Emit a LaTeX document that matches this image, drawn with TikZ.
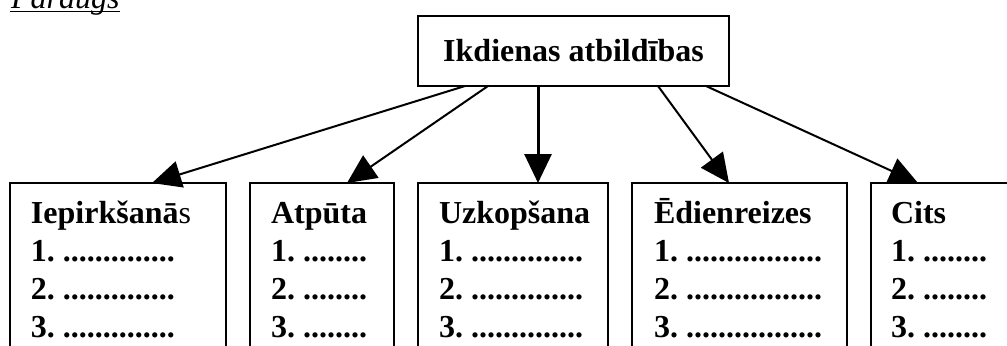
\documentclass[tikz,border=0pt]{standalone}
\usepackage{fontspec}
\setmainfont{Liberation Serif}
\usepackage{tikz}
\usetikzlibrary{arrows.meta}

\begin{document}
\frenchspacing
\begin{tikzpicture}[
            x = 0.5pt, y = -0.5pt, % one unit = one pixel
            > = {Triangle[length=14.5pt, width=13.5pt]}, % arrow head style
            line width = 1pt, % line style
            font = \fontsize{16}{19}\selectfont
        ]

        \tikzstyle{frame}=[
            draw = black,
            line width = 1pt,
            inner sep = 0pt,
            outer sep = 0pt,
            anchor = north west,
            minimum height = 100pt
        ]
        \tikzstyle{list}=[
            anchor = base west, % base of the last line
            align = left,
            inner sep = 0pt,
            font = \fontsize{16}{19}\selectfont\bfseries
        ]

        \useasboundingbox (0,0) rectangle (1007,345);

        % heading
        \node[anchor=base west, inner sep=0pt, font=\fontsize{16}{19}\selectfont\itshape] (par) at (10,8.5) {Paraugs};
        \draw[line width=0.6pt] ([yshift=-1.5pt]par.base west) -- ([yshift=-1.5pt]par.base east);

        % main box
        \node[frame, minimum width=155.5pt, minimum height=35pt, font=\fontsize{16}{19}\selectfont\bfseries] (top) at (418,16) {Ikdienas atbildības};

        % the five boxes
        \node[frame, minimum width=108pt] (iep) at (10,183) {};
        \node[frame, minimum width=72pt] (atp) at (250,183) {};
        \node[frame, minimum width=95pt] (uzk) at (418,183) {};
        \node[frame, minimum width=107.5pt] (edi) at (632,183) {};
        \node[frame, minimum width=84.5pt] (cit) at (871,183) {};

        \node[list] (iept) at (30,337) {Iepirkšanā{\mdseries s}\\1. ..............\\2. ..............\\3. ..............};
        \node[list] (atpt) at (270,337) {Atpūta\\1. ........\\2. ........\\3. ........};
        \node[list] (uzkt) at (438,337) {Uzkopšana\\1. ..............\\2. ..............\\3. ..............};
        \node[list] (edit) at (653,337) {Ēdienreizes\\1. .................\\2. .................\\3. .................};
        \node[list] (citt) at (890,337) {Cits\\1. ........\\2. ........\\3. ........};

        % arrows
        \draw[->] ([xshift=23.5pt]top.south west) -- ([xshift=71pt]iep.north west);
        \draw[->] ([xshift=35pt]top.south west) -- ([xshift=48.5pt]atp.north west);
        \draw[->, line width=1.5pt] ([xshift=60pt]top.south west) -- ([xshift=60pt]uzk.north west);
        \draw[->] ([xshift=120pt]top.south west) -- ([xshift=48.5pt]edi.north west);
        \draw[->] ([xshift=144pt]top.south west) -- ([xshift=23.5pt]cit.north west);

    \end{tikzpicture}
\end{document}
